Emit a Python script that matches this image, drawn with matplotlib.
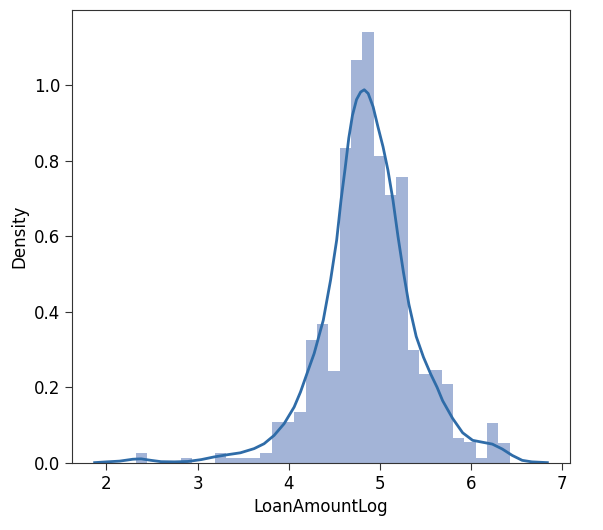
import matplotlib
matplotlib.use('Agg')
from matplotlib import pyplot as plt

# histogram: 35 equal bins from log(9) to log(700)
bin_start = 2.1972
bin_width = 0.12441
bin_heights = [0.0, 0.027, 0.0, 0.0, 0.0, 0.0136, 0.0, 0.0, 0.027, 0.014,
               0.014, 0.014, 0.027, 0.109, 0.109, 0.136, 0.326, 0.367, 0.244, 0.835,
               1.066, 1.142, 0.812, 0.709, 0.757, 0.298, 0.235, 0.245, 0.21, 0.066,
               0.055, 0.0136, 0.107, 0.054, 0.0]

# kde curve
kde_x = [1.87, 2.0, 2.145, 2.29, 2.38, 2.49, 2.6, 2.745, 2.89, 3.04,
         3.18, 3.33, 3.47, 3.62, 3.73, 3.84, 3.95, 4.06, 4.13, 4.2,
         4.28, 4.38, 4.46, 4.527, 4.575, 4.62, 4.66, 4.7, 4.745, 4.79,
         4.83, 4.873, 4.927, 4.98, 5.036, 5.09, 5.145, 5.2, 5.26, 5.32,
         5.4, 5.48, 5.56, 5.63, 5.69, 5.8, 5.91, 6.02, 6.127, 6.236, 6.345,
         6.455, 6.564, 6.67, 6.84]
kde_y = [0.001, 0.003, 0.005, 0.010, 0.011, 0.007, 0.0035, 0.003, 0.004, 0.009,
         0.016, 0.022, 0.027, 0.038, 0.051, 0.073, 0.104, 0.148, 0.188, 0.236,
         0.29, 0.378, 0.484, 0.59, 0.696, 0.78, 0.86, 0.92, 0.962, 0.982,
         0.988, 0.978, 0.943, 0.89, 0.837, 0.775, 0.696, 0.6, 0.505, 0.42,
         0.335, 0.28, 0.235, 0.2, 0.165, 0.118, 0.08, 0.06, 0.055, 0.05, 0.037,
         0.02, 0.007, 0.003, 0.001]

x_label = "LoanAmountLog"
y_label = "Density"

lefts = [bin_start + i * bin_width for i in range(len(bin_heights))]

fig = plt.figure(figsize=(6.03, 5.30), dpi=100)
ax = fig.add_axes([72 / 603, 1 - 463 / 530, (570 - 72) / 603, (463 - 10) / 530])

ax.bar(lefts, bin_heights, width=bin_width, align='edge', color='#a3b4d7', linewidth=0)
ax.plot(kde_x, kde_y, color='#2f6ca8', lw=2)

ax.set_xticks([2, 3, 4, 5, 6, 7])
ax.set_yticks([0.0, 0.2, 0.4, 0.6, 0.8, 1.0])
ax.tick_params(labelsize=12, length=5, color='#333333')
ax.set_xlabel(x_label, fontsize=12)
ax.set_ylabel(y_label, fontsize=12)
for s in ax.spines.values():
    s.set_color('#333333')

fig.savefig('out.png', dpi=100)
